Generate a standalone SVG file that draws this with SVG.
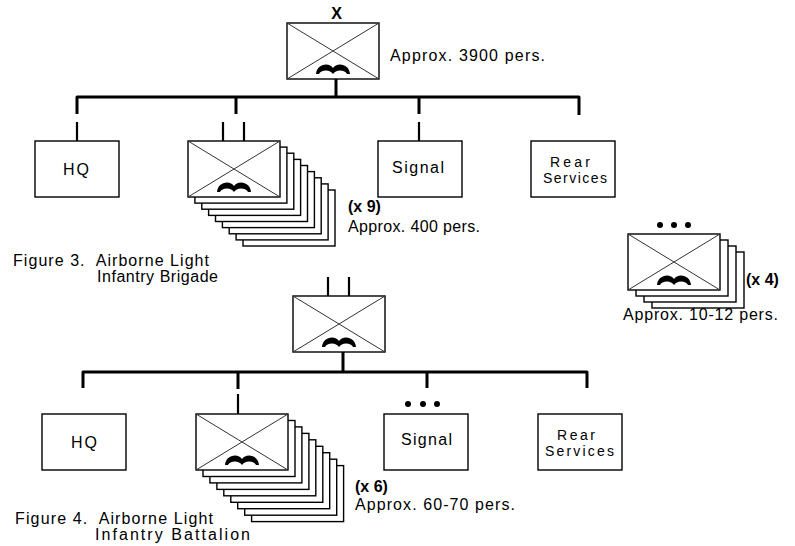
<svg xmlns="http://www.w3.org/2000/svg" xmlns:xlink="http://www.w3.org/1999/xlink" width="795" height="546" viewBox="0 0 795 546">
<style>
.box{fill:#fff;stroke:#000;stroke-width:1.4}
.x{stroke:#333;stroke-width:1;fill:none}
.conn{stroke:#000;stroke-width:3;fill:none;stroke-linejoin:round}
.thin{stroke:#000;stroke-width:2.2;fill:none}
.t{font-family:"Liberation Sans",Arial,sans-serif;font-size:16px;fill:#000}
.s{font-size:14px}
.b{font-weight:bold}
.m{text-anchor:middle}
</style>
<defs>
<path id="ab" d="M-17,0 C-16.5,-6 -12,-9.5 -7,-9.5 C-4,-9.5 -1.5,-8 0,-6 C1.5,-8 4,-9.5 7,-9.5 C12,-9.5 16.5,-6 17,0 L14,0 C13,-2 10.5,-3.5 7,-3.5 C4,-3.5 1.5,-2 0,0 C-1.5,-2 -4,-3.5 -7,-3.5 C-10.5,-3.5 -13,-2 -14,0 Z" fill="#000"/>
<g id="unit"><rect class="box" x="0" y="0" width="92" height="56"/><path class="x" d="M0,0L92,56M92,0L0,56"/><use href="#ab" x="46" y="51"/></g>
<rect id="sheet" class="box" x="0" y="0" width="92" height="56"/>
<rect id="plain" class="box" x="0" y="0" width="84" height="56"/>
</defs>

<g id="connectors">
<path class="conn" d="M77,114V97H579V115"/>
<path class="conn" d="M236,97V114M419,97V114M336,78V97"/>
<path class="thin" d="M77,122V141M419,122V141"/>
<path class="conn" d="M83,388V372H587V388"/>
<path class="conn" d="M238,372V389M427,372V388M343,352V372"/>
<path class="thin" d="M238,394V414"/>
</g>

<g id="brigade">
<use href="#unit" x="287" y="23"/>
<text class="t b m" x="336.5" y="19">X</text>
<text class="t" x="390" y="61" textLength="155" lengthAdjust="spacing">Approx. 3900 pers.</text>
</g>

<g id="brigade-hq">
<use href="#plain" x="35" y="141"/>
<text class="t" x="63" y="175" textLength="26" lengthAdjust="spacing">HQ</text>
</g>

<g id="brigade-battalions">
<use href="#sheet" x="243" y="190"/>
<use href="#sheet" x="236.1" y="183.9"/>
<use href="#sheet" x="229.2" y="177.8"/>
<use href="#sheet" x="222.4" y="171.6"/>
<use href="#sheet" x="215.5" y="165.5"/>
<use href="#sheet" x="208.6" y="159.4"/>
<use href="#sheet" x="201.8" y="153.2"/>
<use href="#sheet" x="194.9" y="147.1"/>
<use href="#unit" x="188" y="141"/>
<path class="thin" d="M223,122V141M244,122V141"/>
<text class="t b" x="348" y="212">(x 9)</text>
<text class="t" x="348" y="232" textLength="132" lengthAdjust="spacing">Approx. 400 pers.</text>
</g>

<g id="brigade-signal">
<use href="#plain" x="378" y="141"/>
<text class="t" x="392" y="173" textLength="52" lengthAdjust="spacing">Signal</text>
</g>

<g id="brigade-rear">
<use href="#plain" x="531" y="141"/>
<text class="t s" x="550" y="167" textLength="40" lengthAdjust="spacing">Rear</text>
<text class="t s" x="543" y="183" textLength="64" lengthAdjust="spacing">Services</text>
</g>

<g id="caption-3">
<text class="t" x="13" y="266" xml:space="preserve" textLength="196" lengthAdjust="spacing">Figure 3.  Airborne Light</text>
<text class="t" x="97" y="282" textLength="121" lengthAdjust="spacing">Infantry Brigade</text>
</g>

<g id="platoons">
<use href="#sheet" x="652" y="252"/>
<use href="#sheet" x="644" y="246"/>
<use href="#sheet" x="636" y="240"/>
<use href="#unit" x="628" y="234"/>
<circle cx="660" cy="225" r="3"/>
<circle cx="674" cy="225" r="3"/>
<circle cx="688" cy="225" r="3"/>
<text class="t b" x="746" y="285">(x 4)</text>
<text class="t" x="623" y="320" textLength="155" lengthAdjust="spacing">Approx. 10-12 pers.</text>
</g>

<g id="battalion">
<use href="#unit" x="293" y="296"/>
<path class="thin" d="M328,277V296M349,277V296"/>
</g>

<g id="battalion-hq">
<use href="#plain" x="42" y="414"/>
<text class="t" x="71" y="448" textLength="26" lengthAdjust="spacing">HQ</text>
</g>

<g id="battalion-companies">
<use href="#sheet" x="251.6" y="465.6"/>
<use href="#sheet" x="244.7" y="459.2"/>
<use href="#sheet" x="237.7" y="452.7"/>
<use href="#sheet" x="230.8" y="446.3"/>
<use href="#sheet" x="223.8" y="439.8"/>
<use href="#sheet" x="216.9" y="433.4"/>
<use href="#sheet" x="209.9" y="426.9"/>
<use href="#sheet" x="203" y="420.5"/>
<use href="#unit" x="196" y="414"/>
<text class="t b" x="355" y="492">(x 6)</text>
<text class="t" x="355" y="510" textLength="160" lengthAdjust="spacing">Approx. 60-70 pers.</text>
</g>

<g id="battalion-signal">
<use href="#plain" x="384" y="414"/>
<circle cx="408" cy="404" r="3"/>
<circle cx="423" cy="404" r="3"/>
<circle cx="437" cy="404" r="3"/>
<text class="t" x="401" y="445" textLength="51" lengthAdjust="spacing">Signal</text>
</g>

<g id="battalion-rear">
<use href="#plain" x="538" y="414"/>
<text class="t s" x="557" y="440" textLength="38" lengthAdjust="spacing">Rear</text>
<text class="t s" x="545" y="456" textLength="69" lengthAdjust="spacing">Services</text>
</g>

<g id="caption-4">
<text class="t" x="15" y="524" xml:space="preserve" textLength="198" lengthAdjust="spacing">Figure 4.  Airborne Light</text>
<text class="t" x="95" y="540" textLength="155" lengthAdjust="spacing">Infantry Battalion</text>
</g>
</svg>
